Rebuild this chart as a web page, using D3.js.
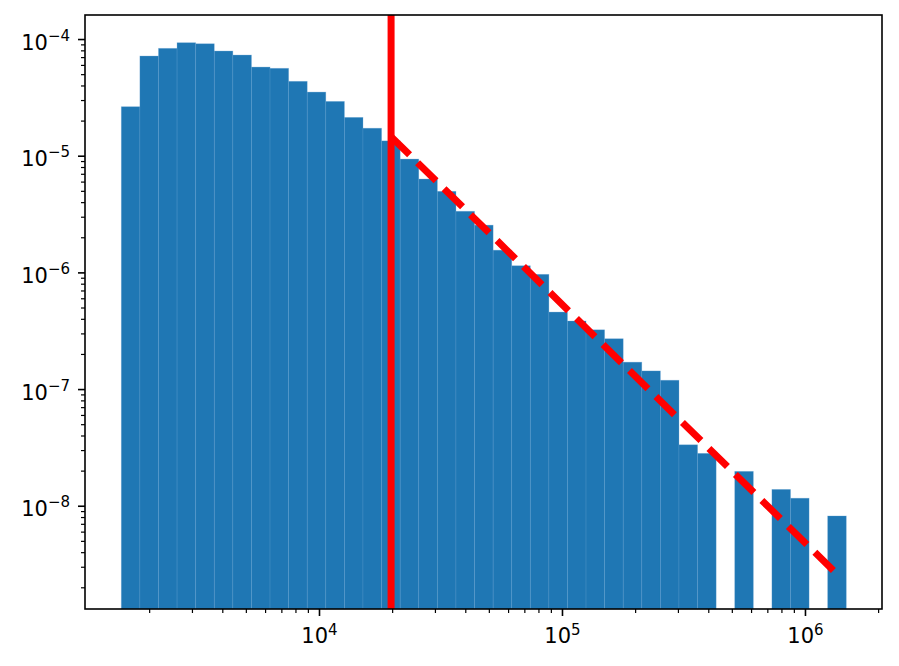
<html>

<head>
  <meta charset="utf-8">
  <title>Log-binned histogram with power-law fit</title>
  <script src="https://d3js.org/d3.v7.min.js"></script>
  <style>
    body { margin: 0; background: #fff; }
    text { font-family: "DejaVu Sans", sans-serif; }
  </style>
</head>

<body>
  <svg width="899" height="666"></svg>
  <script>
    // bin edges (log spaced)
    const binEdges = [1536, 1832, 2185, 2605, 3108, 3707, 4420, 5272, 6287, 7499,
      8943, 10665, 12721, 15170, 18095, 21579, 25737, 30694, 36610, 43662,
      52072, 62104, 74066, 88336, 105290, 125580, 149750, 178610, 213020, 254060,
      303000, 361370, 430960, 513990, 613000, 731110, 871930, 1039700, 1240000, 1479000];
    // density per bin (0 = empty bin)
    const density = [2.63e-5, 7.15e-5, 8.32e-5, 9.30e-5, 9.11e-5, 7.89e-5, 7.29e-5, 5.75e-5, 5.61e-5, 4.34e-5,
      3.51e-5, 2.92e-5, 2.13e-5, 1.72e-5, 1.34e-5, 9.36e-6, 6.31e-6, 4.95e-6, 3.34e-6, 2.54e-6,
      1.55e-6, 1.14e-6, 9.62e-7, 4.57e-7, 3.83e-7, 3.22e-7, 2.70e-7, 1.70e-7, 1.43e-7, 1.19e-7,
      3.33e-8, 2.81e-8, 0, 1.97e-8, 0, 1.38e-8, 1.16e-8, 0, 8.17e-9];
    const xMin = 19800;
    const fitX = [19800, 1.38e6];
    const fitY = [1.455e-5, 2.5e-9];
    const xMajor = [1e4, 1e5, 1e6];
    const yMajor = [1e-8, 1e-7, 1e-6, 1e-5, 1e-4];

    const svg = d3.select("svg");
    const margin = { left: 85, top: 15, right: 17, bottom: 57 };
    const width = 899 - margin.left - margin.right;
    const height = 666 - margin.top - margin.bottom;

    const x = d3.scaleLog().domain([Math.pow(10, 3.037), Math.pow(10, 6.317)]).range([0, width]);
    const y = d3.scaleLog().domain([Math.pow(10, -8.885), Math.pow(10, -3.794)]).range([height, 0]);

    const g = svg.append("g").attr("transform", `translate(${margin.left},${margin.top})`);

    const bins = density.map((v, i) => ({ x0: binEdges[i], x1: binEdges[i + 1], v: v }))
      .filter(d => d.v > 0);

    g.selectAll("rect.bar")
      .data(bins)
      .enter()
      .append("rect")
      .attr("class", "bar")
      .attr("x", d => x(d.x0))
      .attr("width", d => x(d.x1) - x(d.x0))
      .attr("y", d => y(d.v))
      .attr("height", d => height - y(d.v))
      .attr("fill", "#1f77b4")
      .attr("stroke", "#5f9fd0")
      .attr("stroke-opacity", 0.35)
      .attr("stroke-width", 0.8);

    // xmin line
    g.append("line")
      .attr("x1", x(xMin)).attr("x2", x(xMin))
      .attr("y1", 0).attr("y2", height)
      .attr("stroke", "red")
      .attr("stroke-width", 7);

    // power-law fit
    g.append("line")
      .attr("x1", x(fitX[0])).attr("y1", y(fitY[0]))
      .attr("x2", x(fitX[1])).attr("y2", y(fitY[1]))
      .attr("stroke", "red")
      .attr("stroke-width", 7)
      .attr("stroke-dasharray", "25.9,11.2");

    // minor ticks
    const xMinor = [];
    const yMinor = [];
    [1e3, 1e4, 1e5, 1e6].forEach(d => { for (let k = 2; k <= 9; k++) xMinor.push(d * k); });
    [1e-9, 1e-8, 1e-7, 1e-6, 1e-5, 1e-4].forEach(d => { for (let k = 2; k <= 9; k++) yMinor.push(d * k); });
    const xd = x.domain(), yd = y.domain();

    g.append("g")
      .attr("transform", `translate(0,${height})`)
      .call(d3.axisBottom(x).tickValues(xMinor.filter(v => v >= xd[0] && v <= xd[1]))
        .tickSize(4).tickFormat(""))
      .call(a => a.select(".domain").remove())
      .selectAll("line").attr("stroke-width", 1.2);

    g.append("g")
      .call(d3.axisLeft(y).tickValues(yMinor.filter(v => v >= yd[0] && v <= yd[1]))
        .tickSize(4).tickFormat(""))
      .call(a => a.select(".domain").remove())
      .selectAll("line").attr("stroke-width", 1.2);

    const exp = v => Math.round(Math.log10(v));

    const xAxis = g.append("g")
      .attr("transform", `translate(0,${height})`)
      .call(d3.axisBottom(x).tickValues(xMajor).tickSize(7).tickFormat(""));
    xAxis.select(".domain").remove();
    xAxis.selectAll(".tick line").attr("stroke-width", 1.6);
    xAxis.selectAll(".tick text")
      .attr("y", 34).attr("dy", null)
      .attr("font-size", 21).attr("fill", "#000")
      .each(function (d) {
        const t = d3.select(this);
        t.text("10");
        t.append("tspan").attr("font-size", 15).attr("dy", -8).text(exp(d));
      });

    const yAxis = g.append("g")
      .call(d3.axisLeft(y).tickValues(yMajor).tickSize(7).tickFormat(""));
    yAxis.select(".domain").remove();
    yAxis.selectAll(".tick line").attr("stroke-width", 1.6);
    yAxis.selectAll(".tick text")
      .attr("x", -15).attr("dy", 10)
      .attr("font-size", 21).attr("fill", "#000")
      .each(function (d) {
        const t = d3.select(this);
        t.text("10");
        t.append("tspan").attr("font-size", 15).attr("dy", -9).text("\u2212" + (-exp(d)));
      });

    // frame
    g.append("rect")
      .attr("width", width).attr("height", height)
      .attr("fill", "none")
      .attr("stroke", "#000")
      .attr("stroke-width", 1.6);
  </script>
</body>

</html>
